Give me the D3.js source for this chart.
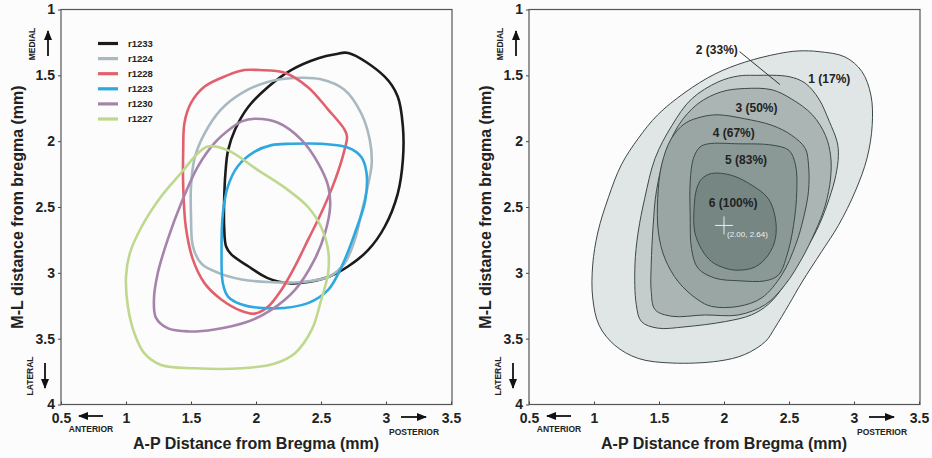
<!DOCTYPE html>
<html>
<head>
<meta charset="utf-8">
<title>A-P / M-L contours</title>
<script src="https://d3js.org/d3.v7.min.js"></script>
<style>
  body { margin: 0; background: #fbfcfb; }
  svg text { font-family: "Liberation Sans", Arial, sans-serif; font-weight: bold; fill: #222; }
</style>
</head>
<body>
<div id="chart"></div>
<script>
// ---- data (mm from bregma: [A-P, M-L]) ----
var ratNames  = ["r1233", "r1224", "r1228", "r1223", "r1230", "r1227"];
var ratColors = ["#1b1b1b", "#a9b9c1", "#e2606e", "#2fa7df", "#a583ab", "#bfd88e"];

var r1233 = [[2.71,1.33],[2.99,1.51],[3.09,1.66],[3.13,1.89],[3.13,2.14],[3.09,2.40],[2.99,2.65],[2.86,2.83],
  [2.71,2.95],[2.56,3.03],[2.40,3.07],[2.27,3.08],[2.09,3.04],[1.94,2.95],[1.81,2.86],[1.77,2.80],[1.755,2.65],
  [1.755,2.45],[1.765,2.24],[1.785,2.07],[1.84,1.91],[1.94,1.74],[2.09,1.59],[2.27,1.46],[2.48,1.37],[2.61,1.34]];
var r1224 = [[2.30,1.52],[2.50,1.53],[2.68,1.61],[2.81,1.79],[2.875,1.99],[2.89,2.17],[2.86,2.34],[2.81,2.55],
  [2.76,2.75],[2.68,2.93],[2.56,3.03],[2.35,3.07],[2.09,3.07],[1.89,3.05],[1.71,3.00],[1.58,2.93],[1.515,2.80],
  [1.50,2.57],[1.50,2.34],[1.53,2.12],[1.605,1.94],[1.73,1.76],[1.89,1.635],[2.09,1.55]];
var r1228 = [[2.02,1.46],[2.22,1.48],[2.40,1.59],[2.555,1.76],[2.68,1.91],[2.70,1.965],[2.68,2.07],[2.61,2.29],
  [2.50,2.55],[2.40,2.75],[2.30,2.95],[2.195,3.13],[2.09,3.26],[1.99,3.31],[1.89,3.29],[1.73,3.20],[1.605,3.08],
  [1.515,2.90],[1.46,2.65],[1.44,2.34],[1.44,2.07],[1.45,1.86],[1.50,1.71],[1.605,1.585],[1.78,1.50],[1.91,1.46]];
var r1223 = [[2.27,2.02],[2.50,2.02],[2.71,2.05],[2.81,2.12],[2.85,2.24],[2.84,2.45],[2.76,2.70],[2.66,2.95],
  [2.555,3.13],[2.40,3.23],[2.14,3.27],[1.89,3.24],[1.785,3.18],[1.745,3.08],[1.735,2.85],[1.745,2.55],
  [1.785,2.34],[1.86,2.19],[1.99,2.08],[2.12,2.03]];
var r1230 = [[1.99,1.83],[2.17,1.86],[2.35,1.99],[2.48,2.17],[2.555,2.34],[2.57,2.50],[2.53,2.70],[2.45,2.90],
  [2.30,3.13],[2.12,3.28],[1.94,3.37],[1.68,3.43],[1.48,3.445],[1.32,3.42],[1.23,3.34],[1.215,3.20],[1.245,3.00],
  [1.32,2.75],[1.425,2.47],[1.555,2.19],[1.68,2.015],[1.81,1.90],[1.89,1.85]];
var r1227 = [[1.63,2.04],[1.785,2.07],[2.015,2.22],[2.245,2.37],[2.40,2.50],[2.50,2.65],[2.555,2.83],[2.555,3.00],
  [2.50,3.21],[2.43,3.43],[2.30,3.61],[2.14,3.69],[1.89,3.725],[1.53,3.725],[1.27,3.70],[1.14,3.61],[1.065,3.46],
  [1.015,3.26],[1.00,3.03],[1.03,2.85],[1.12,2.65],[1.27,2.42],[1.425,2.24],[1.555,2.09]];
var ratCurves = [r1233, r1224, r1228, r1223, r1230, r1227];

var overlapLabels = ["1 (17%)", "2 (33%)", "3 (50%)", "4 (67%)", "5 (83%)", "6 (100%)"];
var overlapFills  = ["#dfe6e5", "#c4cdcc", "#abb6b4", "#9aa6a4", "#8a9896", "#768683"];
var labelPos = [[2.81,1.525],[1.945,1.305],[2.25,1.75],[2.075,1.94],[2.17,2.145],[2.07,2.47]];
var leader2 = [[2.12,1.32],[2.43,1.57]];
var centroid = [2.00, 2.64];

var c1 = [[2.73,1.32],[2.93,1.36],[3.06,1.47],[3.13,1.65],[3.14,1.88],[3.10,2.13],[3.01,2.38],[2.88,2.64],
  [2.75,2.84],[2.60,3.07],[2.50,3.24],[2.39,3.42],[2.32,3.52],[2.16,3.62],[1.96,3.67],[1.60,3.685],[1.34,3.65],
  [1.16,3.55],[1.04,3.40],[0.99,3.19],[0.99,2.94],[1.03,2.69],[1.11,2.43],[1.21,2.18],[1.34,1.98],[1.49,1.80],
  [1.70,1.63],[1.93,1.49],[2.16,1.40],[2.42,1.335],[2.57,1.315]];
var c2 = [[2.24,1.50],[2.50,1.51],[2.625,1.56],[2.73,1.68],[2.81,1.85],[2.87,2.005],[2.88,2.11],[2.86,2.26],
  [2.81,2.435],[2.73,2.64],[2.65,2.79],[2.55,2.94],[2.445,3.12],[2.34,3.24],[2.21,3.32],[2.01,3.37],[1.70,3.41],
  [1.49,3.42],[1.365,3.37],[1.325,3.24],[1.315,2.94],[1.34,2.69],[1.39,2.435],[1.47,2.13],[1.60,1.88],[1.75,1.68],
  [1.955,1.55],[2.11,1.505]];
var c3 = [[2.16,1.60],[2.37,1.61],[2.52,1.68],[2.68,1.80],[2.78,1.955],[2.82,2.11],[2.82,2.28],[2.78,2.485],
  [2.70,2.69],[2.60,2.89],[2.47,3.09],[2.32,3.24],[2.11,3.32],[1.85,3.32],[1.60,3.33],[1.47,3.28],[1.44,3.14],
  [1.44,2.94],[1.455,2.64],[1.48,2.38],[1.545,2.11],[1.65,1.88],[1.80,1.715],[1.98,1.625]];
var c4 = [[1.955,1.80],[2.16,1.83],[2.37,1.88],[2.52,1.955],[2.625,2.055],[2.65,2.18],[2.65,2.38],[2.61,2.59],
  [2.55,2.79],[2.445,3.015],[2.29,3.19],[2.11,3.255],[1.905,3.255],[1.80,3.205],[1.65,3.07],[1.545,2.89],
  [1.495,2.69],[1.49,2.435],[1.52,2.18],[1.595,1.98],[1.70,1.865],[1.83,1.815]];
var c5 = [[1.88,2.02],[2.11,2.02],[2.37,2.03],[2.50,2.07],[2.55,2.18],[2.56,2.38],[2.535,2.64],[2.485,2.865],
  [2.42,3.015],[2.32,3.06],[2.11,3.06],[1.93,3.04],[1.80,2.965],[1.75,2.815],[1.74,2.56],[1.74,2.31],[1.765,2.13],
  [1.815,2.045]];
var c6 = [[1.905,2.245],[2.06,2.26],[2.215,2.335],[2.34,2.435],[2.395,2.585],[2.395,2.74],[2.34,2.865],
  [2.24,2.955],[2.11,2.98],[2.01,2.965],[1.905,2.915],[1.83,2.825],[1.775,2.69],[1.77,2.51],[1.79,2.36],[1.83,2.285]];
var overlapCurves = [c1, c2, c3, c4, c5, c6];

var xTicks = [0.5, 1, 1.5, 2, 2.5, 3, 3.5];
var yTicks = [1, 1.5, 2, 2.5, 3, 3.5, 4];

// ---- layout ----
var W = 932, H = 458;
var svg = d3.select("#chart").append("svg").attr("width", W).attr("height", H);

svg.append("defs").append("marker")
    .attr("id", "head").attr("viewBox", "0 0 10 10").attr("refX", 9).attr("refY", 5)
    .attr("markerWidth", 10).attr("markerHeight", 10).attr("markerUnits", "userSpaceOnUse")
    .attr("orient", "auto")
  .append("path").attr("d", "M0,1 L10,5 L0,9 Z").attr("fill", "#111");

function panel(left) {
  var g = svg.append("g");
  var x = d3.scaleLinear().domain([0.5, 3.5]).range([left, left + 390]);
  var y = d3.scaleLinear().domain([1, 4]).range([9.5, 404.5]);

  var xa = g.append("g").attr("transform", "translate(0,404.5)")
    .call(d3.axisBottom(x).tickValues(xTicks).tickSize(-3).tickPadding(9).tickFormat(d3.format("")));
  var ya = g.append("g").attr("transform", "translate(" + left + ",0)")
    .call(d3.axisLeft(y).tickValues(yTicks).tickSize(3).tickPadding(3).tickFormat(d3.format("")));
  [xa, ya].forEach(function(a) {
    a.select(".domain").remove();
    a.selectAll("line").attr("stroke", "#444");
    a.selectAll("text").style("font-size", "14px").attr("fill", "#222");
  });

  g.append("rect").attr("x", left).attr("y", 9.5).attr("width", 391).attr("height", 395)
    .attr("fill", "none").attr("stroke", "#555").attr("stroke-width", 1.2);

  g.append("text").attr("x", left + 195).attr("y", 449).attr("text-anchor", "middle")
    .style("font-size", "16px").text("A-P Distance from Bregma (mm)");
  g.append("text").attr("transform", "translate(" + (left - 44) + ",207) rotate(-90)")
    .attr("text-anchor", "middle").attr("dy", "0.35em")
    .style("font-size", "16px").text("M-L distance from bregma (mm)");

  // direction hints
  var small = function(t, tx, ty, rot) {
    g.append("text").attr("transform", "translate(" + tx + "," + ty + ")" + (rot ? " rotate(-90)" : ""))
      .attr("text-anchor", "middle").attr("dy", "0.35em").style("font-size", "8.5px").text(t);
  };
  small("MEDIAL", left - 29, 44, true);
  small("LATERAL", left - 31, 376, true);
  small("ANTERIOR", left + 30, 429, false);
  small("POSTERIOR", left + 353, 432, false);
  var arrow = function(x1, y1, x2, y2) {
    g.append("line").attr("x1", x1).attr("y1", y1).attr("x2", x2).attr("y2", y2)
      .attr("stroke", "#111").attr("stroke-width", 1.8).attr("marker-end", "url(#head)");
  };
  arrow(left - 13, 56, left - 13, 31);
  arrow(left - 16, 363, left - 16, 388);
  arrow(left + 42, 416, left + 18, 416);
  arrow(left + 340, 417, left + 365, 417);

  return { g: g, x: x, y: y };
}

// left panel: individual rats
var L = panel(61);
var lineL = d3.line().x(function(d) { return L.x(d[0]); }).y(function(d) { return L.y(d[1]); })
  .curve(d3.curveCatmullRomClosed.alpha(0.5));
L.g.selectAll(".rat").data(ratCurves).enter().append("path")
  .attr("d", lineL).attr("fill", "none")
  .attr("stroke", function(d, i) { return ratColors[i]; })
  .attr("stroke-width", 2.6);

var leg = L.g.append("g");
ratNames.forEach(function(n, i) {
  var yy = 43.5 + i * 15.1;
  leg.append("line").attr("x1", 98).attr("x2", 118).attr("y1", yy).attr("y2", yy)
    .attr("stroke", ratColors[i]).attr("stroke-width", 3.2);
  leg.append("text").attr("x", 128).attr("y", yy).attr("dy", "0.35em")
    .style("font-size", "9.5px").text(n);
});

// right panel: overlap contours
var R = panel(529);
var lineR = d3.line().x(function(d) { return R.x(d[0]); }).y(function(d) { return R.y(d[1]); })
  .curve(d3.curveCatmullRomClosed.alpha(0.5));
R.g.selectAll(".ov").data(overlapCurves).enter().append("path")
  .attr("d", lineR)
  .attr("fill", function(d, i) { return overlapFills[i]; })
  .attr("stroke", "#3c4948").attr("stroke-width", 1);

R.g.append("line")
  .attr("x1", R.x(leader2[0][0])).attr("y1", R.y(leader2[0][1]))
  .attr("x2", R.x(leader2[1][0])).attr("y2", R.y(leader2[1][1]))
  .attr("stroke", "#333").attr("stroke-width", 1);

R.g.selectAll(".lab").data(overlapLabels).enter().append("text")
  .attr("x", function(d, i) { return R.x(labelPos[i][0]); })
  .attr("y", function(d, i) { return R.y(labelPos[i][1]); })
  .attr("text-anchor", "middle").attr("dy", "0.35em")
  .style("font-size", "12px").attr("fill", "#1e2222").text(function(d) { return d; });

var cx = R.x(centroid[0]), cy = R.y(centroid[1]);
R.g.append("path").attr("d", "M" + (cx - 9) + "," + cy + "H" + (cx + 9) + "M" + cx + "," + (cy - 9) + "V" + (cy + 9))
  .attr("stroke", "#e8eeee").attr("stroke-width", 1);
R.g.append("text").attr("x", cx + 3).attr("y", cy + 9).attr("dy", "0.35em")
  .style("font-size", "8px").style("font-weight", "normal")
  .style("fill", "#eef2f2")
  .text("(" + centroid[0].toFixed(2) + ", " + centroid[1].toFixed(2) + ")");
</script>
</body>
</html>
